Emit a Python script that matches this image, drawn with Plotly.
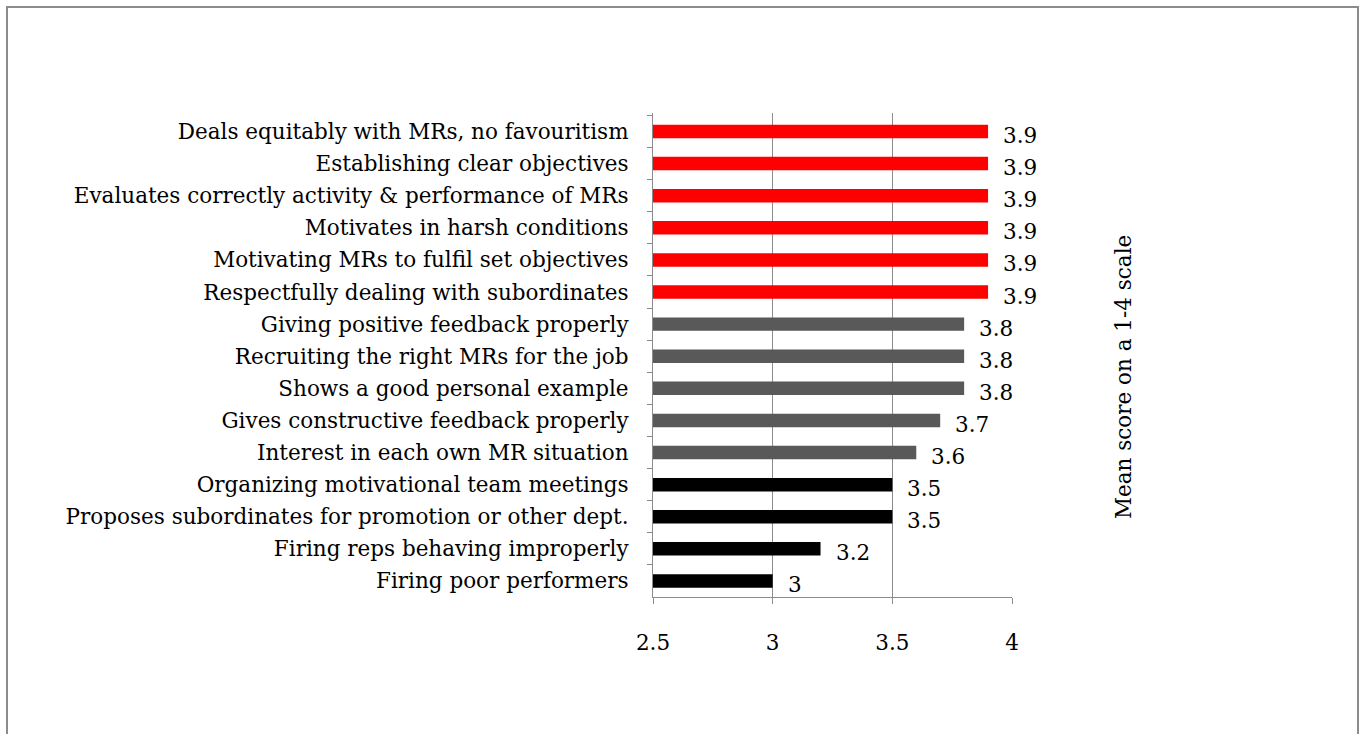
import plotly.graph_objects as go

categories = [
    "Deals equitably with MRs, no favouritism",
    "Establishing clear objectives",
    "Evaluates correctly activity & performance of MRs",
    "Motivates in harsh conditions",
    "Motivating MRs to fulfil set objectives",
    "Respectfully dealing with subordinates",
    "Giving positive feedback properly",
    "Recruiting the right MRs for the job",
    "Shows a good personal example",
    "Gives constructive feedback properly",
    "Interest in each own MR situation",
    "Organizing motivational team meetings",
    "Proposes subordinates for promotion or other dept.",
    "Firing reps behaving improperly",
    "Firing poor performers",
]
values = [3.9, 3.9, 3.9, 3.9, 3.9, 3.9, 3.8, 3.8, 3.8, 3.7, 3.6, 3.5, 3.5, 3.2, 3.0]
groups = ["top"] * 6 + ["mid"] * 5 + ["low"] * 4
group_colors = {"top": "#FF0000", "mid": "#595959", "low": "#000000"}
value_labels = ["3.9"] * 6 + ["3.8", "3.8", "3.8", "3.7", "3.6", "3.5", "3.5", "3.2", "3"]
x_ticks = [2.5, 3, 3.5, 4]
x_tick_labels = ["2.5", "3", "3.5", "4"]
axis_title = "Mean score on a 1-4 scale"

FONT = "DejaVu Serif"
FS = 21.5

fig = go.Figure()
fig.add_trace(go.Bar(
    y=categories,
    x=[v - 2.5 for v in values],
    base=2.5,
    orientation="h",
    marker=dict(color=[group_colors[g] for g in groups], line=dict(width=0)),
    width=0.42,
    hoverinfo="skip",
    showlegend=False,
))

annotations = []
for c, v, t in zip(categories, values, value_labels):
    annotations.append(dict(
        x=v, y=c, xref="x", yref="y", text=t, showarrow=False,
        xanchor="left", yanchor="middle", xshift=13, yshift=-4,
        font=dict(family=FONT, size=FS, color="#000000"),
    ))
annotations.append(dict(
    x=1.31, y=0.455, xref="paper", yref="paper", text=axis_title,
    showarrow=False, textangle=-90, xanchor="center", yanchor="middle",
    font=dict(family=FONT, size=FS, color="#000000"),
))

fig.update_layout(
    width=1362, height=734,
    margin=dict(l=653, r=350, t=113, b=137),
    paper_bgcolor="white", plot_bgcolor="white",
    bargap=0.58,
    annotations=annotations,
    shapes=[dict(
        type="rect", xref="paper", yref="paper",
        x0=(7 - 653) / 359, x1=(1358 - 653) / 359,
        y0=(597 - 760) / 484, y1=(597 - 7) / 484,
        line=dict(color="#8c8c8c", width=2), fillcolor="rgba(0,0,0,0)",
        layer="below",
    )],
    xaxis=dict(
        range=[2.5, 4], tickvals=x_ticks, ticktext=x_tick_labels,
        showgrid=True, gridcolor="#8c8c8c", gridwidth=1.3,
        showline=True, linecolor="#8c8c8c", linewidth=1.3,
        ticks="outside", ticklen=6, tickcolor="#8c8c8c", tickwidth=1.3,
        ticklabelstandoff=20,
        tickfont=dict(family=FONT, size=FS, color="#000000"),
        zeroline=False, fixedrange=True,
    ),
    yaxis=dict(
        type="category", autorange="reversed",
        showline=True, linecolor="#8c8c8c", linewidth=1.3,
        ticks="outside", ticklen=5, tickcolor="#8c8c8c", tickwidth=1.3,
        tickson="boundaries",
        ticklabelstandoff=19,
        tickfont=dict(family=FONT, size=FS, color="#000000"),
        showgrid=False, fixedrange=True,
    ),
)

fig.write_html("out.html")
